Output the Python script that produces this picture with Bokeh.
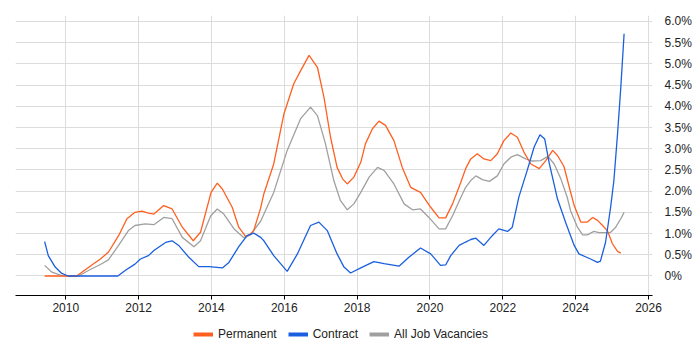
from bokeh.plotting import figure
from bokeh.layouts import column
from bokeh.models import (Range1d, FixedTicker, CustomJSTickFormatter, LinearAxis,
                          Legend, LegendItem)
from bokeh.embed import file_html
from bokeh.resources import INLINE

perm_x = [2009.42, 2010.30, 2010.62, 2010.95, 2011.17, 2011.45, 2011.68, 2011.90, 2012.09, 2012.27,
          2012.42, 2012.69, 2012.92, 2013.20, 2013.50, 2013.70, 2013.99, 2014.16, 2014.30, 2014.57,
          2014.75, 2014.94, 2015.07, 2015.16, 2015.35, 2015.44, 2015.71, 2015.99, 2016.26, 2016.45,
          2016.68, 2016.91, 2017.09, 2017.27, 2017.45, 2017.60, 2017.73, 2017.91, 2018.10, 2018.23,
          2018.42, 2018.60, 2018.78, 2019.01, 2019.24, 2019.47, 2019.74, 2020.02, 2020.25, 2020.43,
          2020.62, 2020.84, 2020.98, 2021.12, 2021.30, 2021.48, 2021.67, 2021.85, 2022.03, 2022.22,
          2022.40, 2022.58, 2022.77, 2023.00, 2023.18, 2023.37, 2023.50, 2023.68, 2023.82, 2023.96,
          2024.14, 2024.32, 2024.47, 2024.60, 2024.74, 2024.87, 2025.01, 2025.15, 2025.24]
perm_y = [0.00, 0.00, 0.20, 0.40, 0.56, 0.95, 1.35, 1.50, 1.53, 1.48,
          1.46, 1.66, 1.58, 1.15, 0.83, 1.03, 1.97, 2.19, 2.05, 1.62,
          1.15, 0.93, 0.99, 1.07, 1.60, 1.94, 2.64, 3.82, 4.53, 4.84,
          5.20, 4.92, 4.21, 3.27, 2.56, 2.29, 2.17, 2.33, 2.68, 3.12,
          3.47, 3.65, 3.55, 3.19, 2.56, 2.09, 1.97, 1.62, 1.37, 1.37,
          1.70, 2.19, 2.53, 2.76, 2.88, 2.76, 2.72, 2.88, 3.19, 3.37,
          3.27, 2.92, 2.64, 2.53, 2.72, 2.96, 2.84, 2.58, 2.11, 1.66,
          1.27, 1.27, 1.38, 1.31, 1.19, 1.07, 0.76, 0.58, 0.54]

contract_x = [2009.42, 2009.52, 2009.71, 2009.89, 2010.07, 2011.43, 2011.63, 2011.90, 2012.05, 2012.27,
              2012.42, 2012.74, 2012.92, 2013.10, 2013.38, 2013.65, 2013.93, 2014.30, 2014.48, 2014.75,
              2014.98, 2015.16, 2015.35, 2015.44, 2015.71, 2016.08, 2016.36, 2016.72, 2016.95, 2017.18,
              2017.45, 2017.64, 2017.82, 2018.10, 2018.46, 2018.74, 2019.15, 2019.42, 2019.74, 2020.02,
              2020.29, 2020.43, 2020.57, 2020.80, 2020.98, 2021.12, 2021.26, 2021.48, 2021.71, 2021.89,
              2022.13, 2022.26, 2022.44, 2022.67, 2022.86, 2023.02, 2023.15, 2023.27, 2023.50, 2023.73,
              2023.96, 2024.09, 2024.41, 2024.60, 2024.68, 2024.82, 2024.96, 2025.05, 2025.15, 2025.24,
              2025.33]
contract_y = [0.81, 0.48, 0.21, 0.06, 0.00, 0.00, 0.13, 0.28, 0.40, 0.48,
              0.60, 0.79, 0.83, 0.72, 0.44, 0.22, 0.22, 0.19, 0.32, 0.69,
              0.95, 1.01, 0.91, 0.83, 0.48, 0.11, 0.52, 1.19, 1.27, 1.07,
              0.52, 0.21, 0.07, 0.19, 0.34, 0.29, 0.23, 0.44, 0.66, 0.52,
              0.25, 0.26, 0.48, 0.72, 0.80, 0.86, 0.89, 0.72, 0.95, 1.11,
              1.05, 1.15, 1.86, 2.49, 3.04, 3.33, 3.23, 2.68, 1.82, 1.25,
              0.72, 0.52, 0.40, 0.32, 0.35, 0.79, 1.62, 2.25, 3.35, 4.45,
              5.71]

all_x = [2009.42, 2009.62, 2009.89, 2010.07, 2010.35, 2010.62, 2010.95, 2011.17, 2011.45, 2011.72,
         2011.90, 2012.18, 2012.42, 2012.69, 2012.92, 2013.20, 2013.52, 2013.70, 2013.98, 2014.16,
         2014.34, 2014.62, 2014.89, 2015.07, 2015.35, 2015.71, 2016.08, 2016.45, 2016.72, 2016.91,
         2017.13, 2017.36, 2017.54, 2017.73, 2017.91, 2018.10, 2018.33, 2018.56, 2018.74, 2019.01,
         2019.29, 2019.52, 2019.74, 2019.97, 2020.25, 2020.43, 2020.62, 2020.84, 2020.98, 2021.12,
         2021.26, 2021.44, 2021.63, 2021.85, 2022.03, 2022.22, 2022.40, 2022.63, 2022.81, 2023.04,
         2023.24, 2023.41, 2023.59, 2023.77, 2023.86, 2024.05, 2024.19, 2024.32, 2024.50, 2024.64,
         2024.77, 2024.96, 2025.10, 2025.24, 2025.33]
all_y = [0.25, 0.09, 0.01, 0.00, 0.00, 0.13, 0.27, 0.38, 0.72, 1.07,
         1.19, 1.23, 1.21, 1.38, 1.35, 0.91, 0.69, 0.83, 1.42, 1.58,
         1.46, 1.11, 0.90, 0.97, 1.29, 1.97, 2.96, 3.71, 3.98, 3.78,
         3.12, 2.25, 1.78, 1.56, 1.70, 1.97, 2.33, 2.56, 2.49, 2.17,
         1.70, 1.56, 1.58, 1.38, 1.11, 1.11, 1.42, 1.84, 2.09, 2.25,
         2.36, 2.27, 2.23, 2.36, 2.64, 2.80, 2.86, 2.76, 2.71, 2.72,
         2.82, 2.64, 2.30, 1.85, 1.54, 1.15, 0.97, 0.97, 1.05, 1.02,
         1.02, 1.03, 1.15, 1.35, 1.50]

year_ticks = [2010, 2012, 2014, 2016, 2018, 2020, 2022, 2024, 2026]
pct_ticks = [0, 0.5, 1, 1.5, 2, 2.5, 3, 3.5, 4, 4.5, 5, 5.5, 6]
series_labels = ["Permanent", "Contract", "All Job Vacancies"]

C_PERM = "#ff6020"
C_CONT = "#1a5fe0"
C_ALL = "#a0a0a0"
FONT = "Liberation Sans"
TXT = "#222222"

p = figure(width=700, height=320, output_backend="svg", toolbar_location=None,
           x_range=Range1d(2008.62, 2026.11), y_range=Range1d(-0.46, 6.14),
           min_border_left=15, min_border_top=15,
           min_border_right=48, min_border_bottom=25)
p.yaxis.visible = False
p.outline_line_color = None
p.background_fill_color = "white"
p.border_fill_color = "white"

# x axis
xa = p.xaxis[0]
xa.ticker = FixedTicker(ticks=year_ticks)
xa.minor_tick_line_color = None
xa.major_tick_out = 4
xa.major_tick_in = 0
xa.axis_line_color = "black"
xa.major_tick_line_color = "black"
xa.major_label_text_font = FONT
xa.major_label_text_font_size = "12px"
xa.major_label_text_color = TXT
xa.major_label_standoff = 3

# y axis on right
ya = LinearAxis(ticker=FixedTicker(ticks=pct_ticks),
                formatter=CustomJSTickFormatter(code="return tick == 0 ? '0%' : tick.toFixed(1) + '%';"))
ya.axis_line_color = None
ya.major_tick_line_color = None
ya.minor_tick_line_color = None
ya.major_label_text_font = FONT
ya.major_label_text_font_size = "12px"
ya.major_label_text_color = TXT
ya.major_label_standoff = 6
p.add_layout(ya, "right")

p.xgrid.ticker = FixedTicker(ticks=year_ticks)
p.ygrid.ticker = FixedTicker(ticks=pct_ticks)
p.xgrid.grid_line_color = "#dcdcdc"
p.ygrid.grid_line_color = "#dcdcdc"

p.line(all_x, all_y, line_color=C_ALL, line_width=1.3)
p.line(perm_x, perm_y, line_color=C_PERM, line_width=1.3)
p.line(contract_x, contract_y, line_color=C_CONT, line_width=1.3)

# legend figure below
lf = figure(width=700, height=30, output_backend="svg", toolbar_location=None,
            x_range=Range1d(0, 700), y_range=Range1d(0, 30),
            min_border_left=0, min_border_right=0, min_border_top=0, min_border_bottom=0)
lf.axis.visible = False
lf.grid.visible = False
lf.outline_line_color = None
lf.border_fill_color = "white"

# off-frame stand-in lines (clipped) that only supply legend swatches
l_perm = lf.line(x=[-20, -10], y=[-20, -20], line_color=C_PERM, line_width=4)
l_cont = lf.line(x=[-20, -10], y=[-20, -20], line_color=C_CONT, line_width=4)
l_all = lf.line(x=[-20, -10], y=[-20, -20], line_color=C_ALL, line_width=4)

legend = Legend(items=[LegendItem(label=series_labels[0], renderers=[l_perm]),
                       LegendItem(label=series_labels[1], renderers=[l_cont]),
                       LegendItem(label=series_labels[2], renderers=[l_all])],
                orientation="horizontal", location=(178, 9),
                label_text_font=FONT, label_text_font_size="12px", label_text_color=TXT,
                glyph_width=20, glyph_height=12, label_standoff=5, spacing=11,
                label_height=12, padding=0, margin=0, border_line_color=None,
                background_fill_alpha=0)
lf.add_layout(legend, "center")

page = column(p, lf, spacing=0)
open("out.html", "w").write(file_html(page, INLINE))
